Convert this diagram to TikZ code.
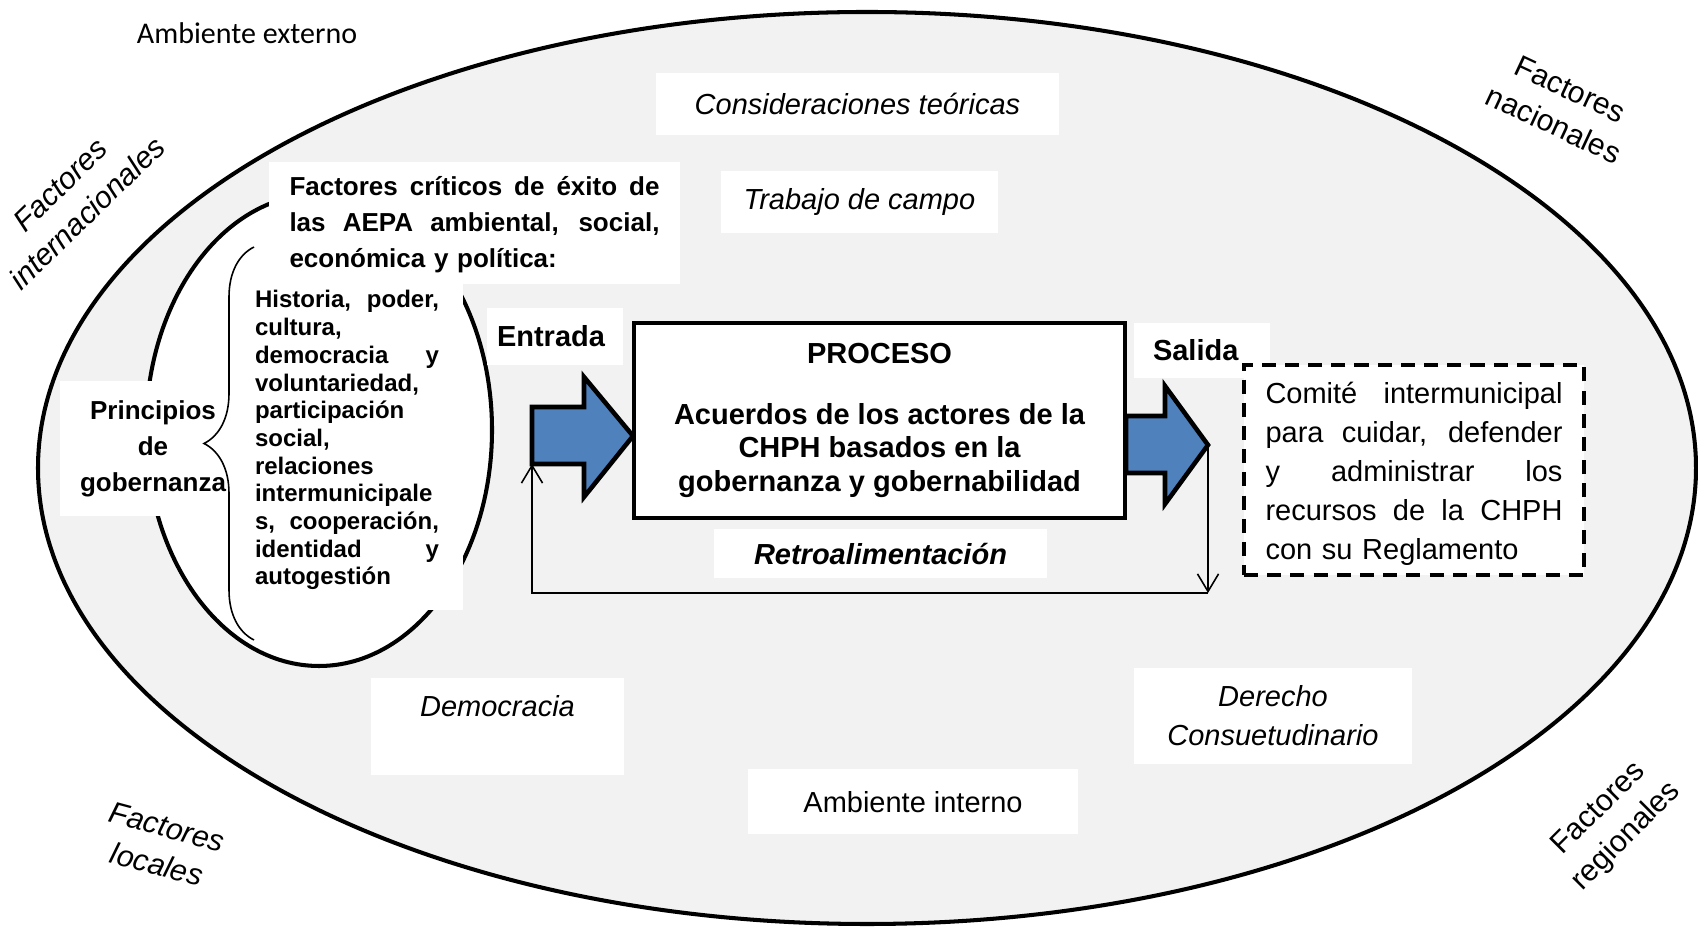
\documentclass[tikz,border=0pt]{standalone}
\usepackage{fontspec}
\setmainfont{Liberation Sans}
\newfontfamily\carlito{Carlito}
\usetikzlibrary{arrows.meta,decorations.pathreplacing}
\definecolor{Fondo}{HTML}{F2F2F2}
\definecolor{Flecha}{HTML}{4F81BD}
\newcommand{\fuente}{\fontsize{8.25}{11.1}\selectfont}
\newcommand{\fuentefac}{\fontsize{8.6}{11.1}\selectfont}
\newcommand{\linea}[1]{\makebox[\hsize][s]{\spaceskip=0pt\relax #1}}

\begin{document}
\begin{tikzpicture}[>={Straight Barb[length=5pt,width=6pt]},
    caja/.style={fill=white, inner sep=0pt, align=center, font=\fuente},
    factor/.style={align=center, font=\fuentefac},
    factorit/.style={factor, font=\fuentefac\itshape},
    bloque/.style={fill=Flecha, draw=black, line width=1.3pt},
    retro/.style={line width=0.45pt}]
    \useasboundingbox (0,0) rectangle (16.98,-9.28);

    % ambiente externo e interno
    \draw[fill=Fondo, line width=1.15pt] (8.67,-4.68) ellipse [x radius=8.29, y radius=4.56];
    \draw[fill=white, line width=1.15pt] (3.19,-4.30) ellipse [x radius=1.73, y radius=2.36];
    \node[font=\fontsize{8.54}{10}\selectfont\carlito] (externo) at (2.47,-0.33) {Ambiente externo};

    % factores alrededor
    \node[factorit, rotate=44] (internac) at (0.74,-1.99) {Factores\\internacionales};
    \node[factor, rotate=-25] (nacional) at (15.62,-1.07) {Factores\\nacionales};
    \node[factorit, rotate=-15] (local) at (1.62,-8.46) {Factores\\locales};
    \node[factor, rotate=45] (regional) at (16.13,-8.23) {Factores\\regionales};

    \node[caja, minimum width=4.03cm, minimum height=0.62cm, font=\fuente\itshape] (teoria) at (8.575,-1.04) {Consideraciones teóricas};
    \node[caja, minimum width=2.77cm, minimum height=0.62cm, font=\fuente\itshape] (campo) at (8.595,-2.02) {Trabajo de campo};

    \node[caja, text width=3.70cm, inner xsep=0.205cm, align=left, text height=0.335cm, text depth=0.885cm,
        font=\fontsize{7.4}{10.24}\selectfont\bfseries] (criticos) at (4.745,-2.23) {%
        \linea{Factores críticos de éxito de}\\
        \linea{las AEPA ambiental, social,}\\
        económica y política:};
    \node[caja, text width=1.84cm, inner xsep=0.24cm, align=left, text height=0.25cm, text depth=3.02cm,
        font=\fontsize{6.83}{7.88}\selectfont\bfseries] (historia) at (3.47,-4.465) {%
        \linea{Historia, poder,}\\
        cultura,\\
        \linea{democracia y}\\
        voluntariedad,\\
        participación\\
        social,\\
        relaciones\\
        intermunicipale\\
        \linea{s, cooperación,}\\
        \linea{identidad y}\\
        autogestión};
    \node[caja, minimum width=1.86cm, minimum height=1.35cm, font=\fontsize{7.4}{10.16}\selectfont\bfseries] (principios) at (1.53,-4.49) {Principios\\de\\gobernanza};

    \node[caja, text width=1.16cm, inner xsep=0.10cm, align=left, minimum height=0.57cm, font=\fuente\bfseries] (entrada) at (5.55,-3.365) {Entrada};
    \node[caja, text width=0.98cm, inner xsep=0.19cm, align=left, minimum height=0.55cm, font=\fuente\bfseries] (salida) at (12.02,-3.505) {Salida};
    \node[caja, minimum width=3.33cm, minimum height=0.49cm, font=\fuente\bfseries\itshape] (retroal) at (8.805,-5.54) {Retroalimentación};
    \node[caja, minimum width=2.53cm, text height=0.39cm, text depth=0.58cm, font=\fuente\itshape] (democracia) at (4.975,-7.265) {Democracia};
    \node[caja, minimum width=2.78cm, minimum height=0.96cm, font=\fuente\itshape] (derecho) at (12.73,-7.16) {Derecho\\Consuetudinario};
    \node[caja, minimum width=3.30cm, minimum height=0.65cm] (interno) at (9.13,-8.02) {Ambiente interno};

    \draw[retro, decorate, decoration={brace, amplitude=0.5cm}] (2.54,-6.40) -- (2.54,-2.47);

    % proceso
    \node[caja, draw, line width=1.4pt, minimum width=4.91cm, minimum height=1.95cm,
        font=\fontsize{8.25}{9.53}\selectfont\bfseries] (proceso) at (8.795,-4.205) {%
        PROCESO\\[7.8pt]
        Acuerdos de los actores de la\\
        CHPH basados en la\\
        gobernanza y gobernabilidad};

    \draw[bloque] (5.32,-4.07) -- (5.84,-4.07) -- (5.84,-3.77) -- (6.33,-4.36)
        -- (5.84,-4.97) -- (5.84,-4.64) -- (5.32,-4.64) -- cycle;
    \draw[bloque] (11.26,-4.16) -- (11.65,-4.16) -- (11.65,-3.86) -- (12.08,-4.45)
        -- (11.65,-5.04) -- (11.65,-4.73) -- (11.26,-4.73) -- cycle;

    \node[caja, draw, line width=1.15pt, dash pattern=on 4pt off 2.6pt, minimum width=3.40cm,
        text width=2.97cm, align=left, text height=0.385cm, text depth=1.715cm] (comite) at (14.14,-4.70) {%
        \linea{Comité intermunicipal}\\
        \linea{para cuidar, defender}\\
        \linea{y administrar los}\\
        \linea{recursos de la CHPH}\\
        con su Reglamento};

    % retroalimentacion
    \coordinate (puntasal) at (12.08,-4.45);
    \coordinate (retroder) at (12.08,-5.93);
    \coordinate (retroizq) at (5.32,-5.93);
    \coordinate (colaent) at (5.32,-4.64);
    \draw[retro, ->] (puntasal) -- (retroder);
    \draw[retro, ->] (retroder) -- (retroizq) -- (colaent);
\end{tikzpicture}
\end{document}
